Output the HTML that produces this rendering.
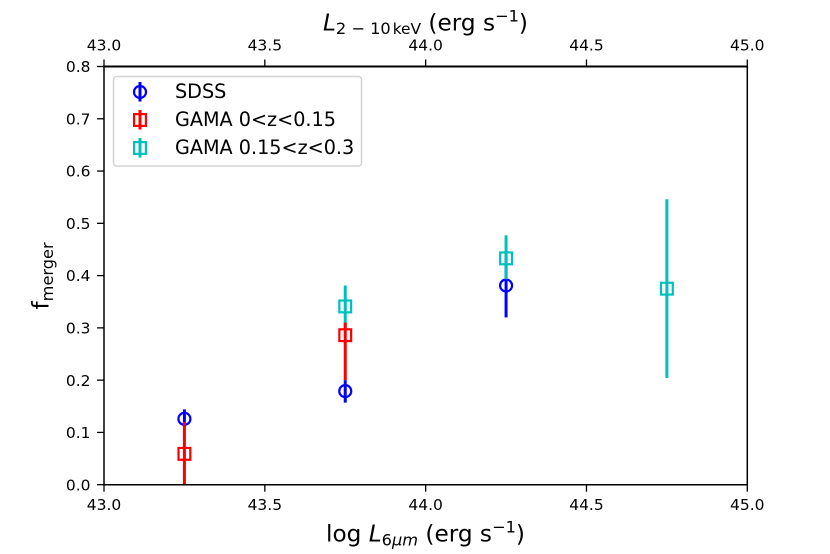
<!DOCTYPE html>
<html>
<head>
<meta charset="utf-8">
<style>
html,body{margin:0;padding:0;background:#fff;}
svg{display:block;}
text{font-family:"DejaVu Sans","Liberation Sans",sans-serif;fill:#000;}
</style>
</head>
<body>
<svg id="chart" width="830" height="554" viewBox="0 0 830 554" xmlns="http://www.w3.org/2000/svg">
  <defs><clipPath id="plot-clip"><rect x="104" y="66.5" width="643.3" height="418.2"/></clipPath></defs>
  <g id="series" clip-path="url(#plot-clip)"></g>
  <g id="ticks"></g>
  <line x1="104" y1="66" x2="104" y2="485.4" stroke="#000" stroke-width="1.5"/>
  <line x1="747.3" y1="66" x2="747.3" y2="485.4" stroke="#000" stroke-width="1.5"/>
  <line x1="103.3" y1="484.7" x2="748" y2="484.7" stroke="#000" stroke-width="1.5"/>
  <line x1="103.3" y1="66.5" x2="748" y2="66.5" stroke="#000" stroke-width="2.1"/>

  <text x="326" y="541.5" font-size="23.2">log <tspan font-style="italic">L</tspan><tspan font-size="16.2" dy="4"><tspan>6</tspan><tspan font-style="italic">μm</tspan></tspan><tspan dy="-4"> (erg s</tspan><tspan font-size="16.2" dy="-9">−1</tspan><tspan dy="9">)</tspan></text>
  <text x="323" y="30.5" font-size="23.2"><tspan font-style="italic">L</tspan><tspan font-size="16.2" dy="3.5">2 − 10</tspan><tspan font-size="15.4" dx="2">keV</tspan><tspan dy="-3.5"> (erg s</tspan><tspan font-size="16.2" dy="-9">−1</tspan><tspan dy="9">)</tspan></text>
  <text transform="translate(48.5,309.5) rotate(-90)" font-size="23.2">f<tspan font-size="16.2" dy="4.5">merger</tspan></text>

  <g>
    <rect x="113.5" y="76.5" width="248" height="89.5" rx="3" fill="#fff" fill-opacity="0.8" stroke="#d3d3d3" stroke-width="1.5"/>
    <g>
      <line x1="140" y1="82" x2="140" y2="101.5" stroke="#0000ff" stroke-width="3"/>
      <circle cx="140" cy="92" r="6" fill="none" stroke="#0000ff" stroke-width="2.2"/>
      <text x="175" y="98" font-size="19.2">SDSS</text>
    </g>
    <g>
      <line x1="140" y1="110" x2="140" y2="129.5" stroke="#ff0000" stroke-width="3"/>
      <rect x="134.1" y="114.1" width="11.8" height="11.8" fill="none" stroke="#ff0000" stroke-width="2.2"/>
      <text x="175" y="126" font-size="19.2">GAMA 0&lt;z&lt;0.15</text>
    </g>
    <g>
      <line x1="140" y1="138" x2="140" y2="157.5" stroke="#00bfbf" stroke-width="3"/>
      <rect x="134.1" y="142.1" width="11.8" height="11.8" fill="none" stroke="#00bfbf" stroke-width="2.2"/>
      <text x="175" y="154" font-size="19.2">GAMA 0.15&lt;z&lt;0.3</text>
    </g>
  </g>
</svg>
<script>
const xTicks = ["43.0", "43.5", "44.0", "44.5", "45.0"];
const yTicks = ["0.0", "0.1", "0.2", "0.3", "0.4", "0.5", "0.6", "0.7", "0.8"];

const sdssX = [43.25, 43.75, 44.25];
const sdssY = [0.126, 0.179, 0.381];
const sdssLow = [0.11, 0.157, 0.32];
const sdssHigh = [0.144, 0.2, 0.44];

const gamaLowX = [43.25, 43.75];
const gamaLowY = [0.059, 0.286];
const gamaLowLow = [0, 0.2];
const gamaLowHigh = [0.12, 0.31];

const gamaHighX = [43.75, 44.25, 44.75];
const gamaHighY = [0.341, 0.433, 0.375];
const gamaHighLow = [0.3, 0.393, 0.204];
const gamaHighHigh = [0.381, 0.477, 0.546];

const NS = "http://www.w3.org/2000/svg";
function xPos(v) { return 104 + (v - 43) * (643.3 / 2); }
function yPos(v) { return 484.7 - v * (418.2 / 0.8); }

function make(tag, attrs, parent) {
  const el = document.createElementNS(NS, tag);
  for (const k in attrs) el.setAttribute(k, attrs[k]);
  parent.appendChild(el);
  return el;
}

const tickGroup = document.getElementById("ticks");
xTicks.forEach(function (label) {
  const x = xPos(parseFloat(label));
  const bottomTick = make("line", { x1: x, x2: x, y1: 484.7, y2: 491.7, stroke: "#000", "stroke-width": 1.3 }, tickGroup);
  
  
  const topTick = make("line", { x1: x, x2: x, y1: 59.5, y2: 66.5, stroke: "#000", "stroke-width": 1.3 }, tickGroup);
  
  
  const bottomLabel = make("text", { x: x, y: 510, "text-anchor": "middle", "font-size": 15.5 }, tickGroup);
  bottomLabel.textContent = label;
  
  
  const topLabel = make("text", { x: x, y: 50.5, "text-anchor": "middle", "font-size": 15.5 }, tickGroup);
  topLabel.textContent = label;
  
  
});
yTicks.forEach(function (label) {
  const y = yPos(parseFloat(label));
  const tick = make("line", { x1: 97, x2: 104, y1: y, y2: y, stroke: "#000", "stroke-width": 1.3 }, tickGroup);
  
  
  const text = make("text", { x: 90.5, y: y + 5.6, "text-anchor": "end", "font-size": 15.5 }, tickGroup);
  text.textContent = label;
  
  
});

const seriesGroup = document.getElementById("series");
function drawSeries(xs, ys, lows, highs, color, shape, name) {
  xs.forEach(function (xv, i) {
    const x = xPos(xv);
    const y = yPos(ys[i]);
    const bar = make("line", { x1: x, x2: x, y1: yPos(lows[i]), y2: yPos(highs[i]), stroke: color, "stroke-width": 3 }, seriesGroup);
    
    
    let mark;
    if (shape === "circle") {
      mark = make("circle", { cx: x, cy: y, r: 6, fill: "none", stroke: color, "stroke-width": 2.2 }, seriesGroup);
    } else {
      mark = make("rect", { x: x - 5.9, y: y - 5.9, width: 11.8, height: 11.8, fill: "none", stroke: color, "stroke-width": 2.2 }, seriesGroup);
    }
    
    
  });
}
drawSeries(sdssX, sdssY, sdssLow, sdssHigh, "#0000ff", "circle", "sdss");
drawSeries(gamaHighX, gamaHighY, gamaHighLow, gamaHighHigh, "#00bfbf", "square", "gama-high-z");
drawSeries(gamaLowX, gamaLowY, gamaLowLow, gamaLowHigh, "#ff0000", "square", "gama-low-z");
</script>
</body>
</html>
